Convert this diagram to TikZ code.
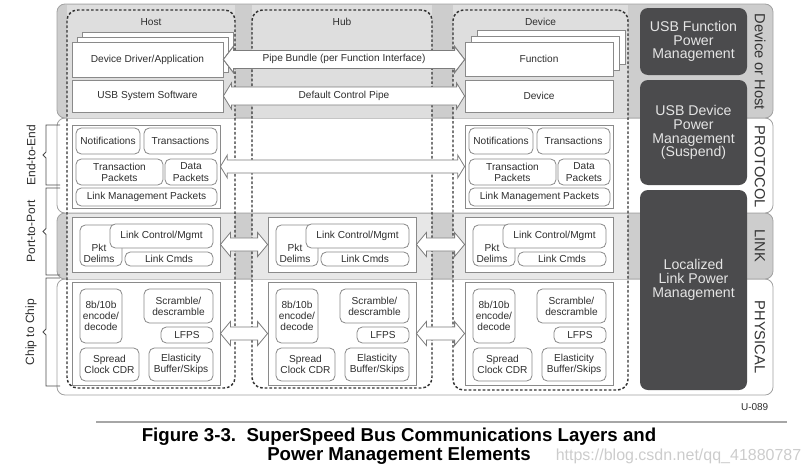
\documentclass[tikz,border=0pt]{standalone}
\usepackage{fontspec}
\setmainfont{Liberation Sans}
\usetikzlibrary{fit,calc,positioning}

\definecolor{bandgray}{HTML}{CDCDCD}
\definecolor{bandlight}{HTML}{DEDEDE}
\definecolor{linklight}{HTML}{E7E7E7}
\definecolor{pmgray}{HTML}{4B4B4D}
\definecolor{edgegray}{HTML}{8A8A8A}
\definecolor{inkgray}{HTML}{2E2E2E}

\newcommand{\partsize}{\fontsize{7.6}{8.4}\selectfont}
\newcommand{\pmsize}{\fontsize{10.6}{10.3}\selectfont}

% block arrow with a head at both ends: [opts]{left tip}{right tip}{half body}{half head}{head length}
\newcommand{\dblarrow}[6][]{%
  \draw[barrow,#1] let \p1=#2, \p2=#3 in
    (\x1,\y1) -- (\x1+#6,\y1+#5) -- (\x1+#6,\y1+#4) -- (\x2-#6,\y1+#4)
    -- (\x2-#6,\y1+#5) -- (\x2,\y1) -- (\x2-#6,\y1-#5) -- (\x2-#6,\y1-#4)
    -- (\x1+#6,\y1-#4) -- (\x1+#6,\y1-#5) -- cycle;}

\tikzset{
  band/.style={draw=edgegray!80, line width=0.6pt, rounded corners=6pt},
  hostcol/.style={draw=black!80, line width=1.1pt, dash pattern=on 2pt off 1.5pt,
    rounded corners=8pt, inner sep=0pt},
  colhead/.style={font=\partsize, text=inkgray, inner sep=1pt},
  layerbox/.style={draw=edgegray, line width=0.6pt, fill=white, inner sep=0pt},
  unittext/.style={align=center, font=\partsize, text=inkgray, inner sep=0pt},
  unitbox/.style={draw=edgegray, line width=0.6pt, fill=white, rounded corners=4pt,
    inner sep=0pt},
  unit/.style={unitbox, label={[unittext]center:#1}},
  swbox/.style={draw=edgegray, line width=0.6pt, fill=white, inner sep=0pt},
  sw/.style={swbox, label={[unittext]center:#1}},
  pmtext/.style={align=center, font=\pmsize, text=white!90!black, inner sep=0pt},
  pm/.style={fill=pmgray, rounded corners=6pt, inner sep=0pt, label={[pmtext]center:#1}},
  barrow/.style={draw=edgegray!90!black, line width=0.6pt, fill=white},
  layerlabel/.style={rotate=-90, font=\fontsize{11}{11}\selectfont, text=black!80},
  sidelabel/.style={rotate=90, font=\fontsize{9}{9}\selectfont, text=inkgray},
  bracket/.style={draw=black!70, line width=0.6pt},
}

\begin{document}
\begin{tikzpicture}[x=0.75pt, y=-0.75pt]
\useasboundingbox (0,0) rectangle (812,471);

% layer bands
\draw[band, fill=white] (57,279) rectangle (773,395);
\draw[band, fill=bandgray] (57,213) rectangle (773,279);
\draw[band, fill=white] (57,118) rectangle (773,213);
\draw[band, fill=bandgray] (57,4) rectangle (773,118);
\foreach \a/\b in {67/235, 252/432, 453/628} {
  \fill[bandlight] (\a,5) rectangle (\b,117.5);
  \fill[linklight] (\a,213.5) rectangle (\b,278.5);
}

\node[hostcol, fit={(67,10) (235,388)}] (host) {};
\node[hostcol, fit={(252,10) (432,388)}] (hub) {};
\node[hostcol, fit={(453,10) (628,390)}] (device) {};
\node[colhead, below=5.5pt of host.north] (hostlbl) {Host};
\node[colhead, below=5.5pt of hub.north] (hublbl) {Hub};
\node[colhead, below=5.5pt of device.north] (devlbl) {Device};

\node[pm={USB Function\\Power\\Management}, fit={(640,8) (747,75)}] (fpm) {};
\node[pm={USB Device\\Power\\Management\\(Suspend)}, fit={(640,80) (747,185)}] (dpm) {};
\node[pm=, fit={(640,190) (747,390)}] (lpm) {};
\node[pmtext] (lpmtext) at (693.5,280) {Localized\\Link Power\\Management};

\node[layerlabel] (dh) at (760,62) {Device or Host};
\node[layerlabel] (prot) at (760,167) {PROTOCOL};
\node[layerlabel] (lnk) at (760,246) {LINK};
\node[layerlabel] (phys) at (760,337) {PHYSICAL};

% device or host
\foreach \s in {10,5}
  \draw[swbox] (72+\s,42-\s) rectangle (223+\s,77-\s);
\node[sw=Device Driver/Application, fit={(72,42) (223,77)}] (app) {};
\node[sw=USB System Software, fit={(72,80) (223,112)}] (sys) {};
\foreach \s in {12,6}
  \draw[swbox] (465+\s,42-\s) rectangle (613+\s,76-\s);
\node[sw=Function, fit={(465,42) (613,76)}] (func) {};
\node[sw=Device, fit={(465,80) (613,112)}] (dev) {};

\dblarrow[yshift=6pt]{(app.east)}{(func.west)}{6.75pt}{9.75pt}{7.5pt}
\dblarrow[yshift=3pt]{(app.east)}{(func.west)}{6.75pt}{9.75pt}{7.5pt}
\dblarrow{(app.east)}{(func.west)}{6.75pt}{9.75pt}{7.5pt}
\node[unittext] (pipe) at ($(app.east)!0.5!(func.west)$) {Pipe Bundle (per Function Interface)};
\dblarrow{(sys.east)}{(dev.west)}{6.75pt}{9.75pt}{6pt}
\node[unittext] (ctrl) at ($(sys.east)!0.5!(dev.west)$) {Default Control Pipe};

% protocol
\foreach \c/\xo in {hp/72, dp/465} {
  \node[layerbox, fit={(\xo,125) (\xo+148,208)}] (\c) {};
  \node[unit=Notifications, fit={(\xo+4,128) (\xo+68,154)}] (\c-not) {};
  \node[unit=Transactions, fit={(\xo+72,128) (\xo+145,154)}] (\c-trn) {};
  \node[unit=Transaction\\Packets, fit={(\xo+4,159) (\xo+91,185)}] (\c-tpk) {};
  \node[unit=Data\\Packets, fit={(\xo+93,159) (\xo+145,185)}] (\c-dpk) {};
  \node[unit=Link Management Packets, fit={(\xo+4,188) (\xo+145,206)}] (\c-lmp) {};
}
\dblarrow{(hp.east)}{(dp.west)}{4.9pt}{8.6pt}{5.2pt}

% link
\foreach \c/\xo in {hl/72, ul/268, dl/465} {
  \node[layerbox, fit={(\xo,217) (\xo+148,272)}] (\c) {};
  \node[unitbox, fit={(\xo+8,225) (\xo+50,266)}] (\c-dlm) {};
  \node[unittext] (\c-dlmtxt) at (\xo+27,253) {Pkt\\Delims};
  \node[unit=Link Control/Mgmt, fit={(\xo+38,224) (\xo+141,248)}] (\c-ctl) {};
  \node[unit=Link Cmds, fit={(\xo+53,252) (\xo+141,266)}] (\c-cmd) {};
}

% physical
\foreach \c/\xo in {hy/72, uy/268, dy/465} {
  \node[layerbox, fit={(\xo,282) (\xo+148,385)}] (\c) {};
  \node[unit=8b/10b\\encode/\\decode, fit={(\xo+8,289) (\xo+50,343)}] (\c-enc) {};
  \node[unit=Scramble/\\descramble, fit={(\xo+72,289) (\xo+141,323)}] (\c-scr) {};
  \node[unit=LFPS, fit={(\xo+89,327) (\xo+141,343)}] (\c-lfps) {};
  \node[unit=Spread\\Clock CDR, fit={(\xo+8,348) (\xo+67,381)}] (\c-cdr) {};
  \node[unit=Elasticity\\Buffer/Skips, fit={(\xo+77,348) (\xo+141,381)}] (\c-ebuf) {};
}
\foreach \a/\b in {hl/ul, ul/dl, hy/uy, uy/dy} {
  \dblarrow{(\a.east)}{(\b.west)}{4.9pt}{9pt}{7.5pt}
}

% scope brackets
\foreach \t/\b/\txt/\n in {125/185/End-to-End/e2e, 188/275/Port-to-Port/p2p, 278/386/Chip to Chip/c2c} {
  \draw[bracket] (60,\t) -- (46,\t) -- (46,{(\t+\b)/2-3}) -- (43,{(\t+\b)/2})
    -- (46,{(\t+\b)/2+3}) -- (46,\b) -- (60,\b);
  \node[sidelabel] (\n) at (31,{(\t+\b)/2}) {\txt};
}

\node[font=\fontsize{7.5}{8}\selectfont, text=inkgray, anchor=east] (uid) at (773,407) {U-089};
\draw[gray!70, line width=1.5pt] (96,422) -- (787,422);
\node[font=\bfseries\fontsize{14}{12.75}\selectfont, align=center] (cap) at (399,446)
  {Figure 3-3.\ \ SuperSpeed Bus Communications Layers and\\Power Management Elements};
\node[font=\fontsize{12}{12}\selectfont, text=gray!40, anchor=east] (wmk) at (806,456)
  {https://blog.csdn.net/qq\_41880787};
\end{tikzpicture}
\end{document}
